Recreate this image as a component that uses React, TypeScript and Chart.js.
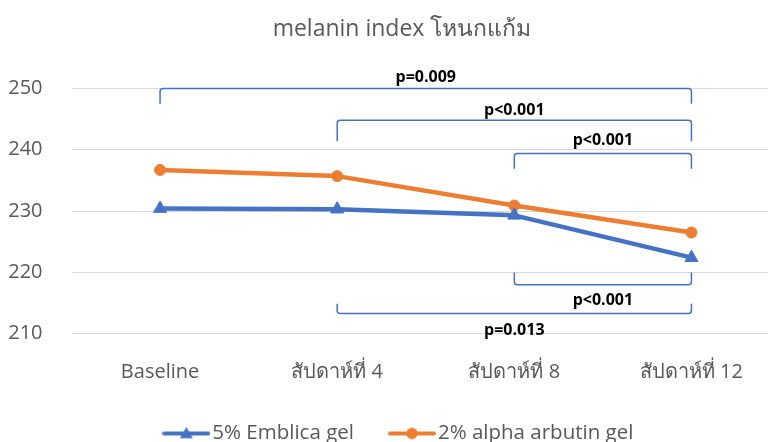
import React, { useEffect, useRef } from 'react';
import { Chart, registerables } from 'chart.js';

Chart.register(...registerables);

const categories = ['Baseline', 'สัปดาห์ที่ 4', 'สัปดาห์ที่ 8', 'สัปดาห์ที่ 12'];
const seriesNames = ['5% Emblica gel', '2% alpha arbutin gel'];
const emblicaValues = [230.4, 230.3, 229.3, 222.4];
const arbutinValues = [236.7, 235.7, 230.9, 226.5];
const yTicks = [210, 220, 230, 240, 250];

const bracketFrom = [0, 1, 2, 2, 1];
const bracketTo = [3, 3, 3, 3, 3];
const bracketLine = [250, 244.8, 239.4, 218.0, 213.3];
const bracketEnd = [247.5, 241.4, 236.9, 220.0, 214.9];
const bracketText = ['p=0.009', 'p<0.001', 'p<0.001', 'p<0.001', 'p=0.013'];
const bracketTextAt = [251.1, 245.6, 240.8, 214.7, 209.8];

const BLUE = '#4472C4';
const ORANGE = '#ED7D31';
const GREY = '#595959';
const FONT = "'Open Sans', 'Noto Sans', sans-serif";

function makeLegendImage(color: string, style: 'triangle' | 'circle') {
  const c = document.createElement('canvas');
  c.width = 48;
  c.height = 16;
  const g = c.getContext('2d')!;
  g.strokeStyle = color;
  g.lineWidth = 4;
  g.lineCap = 'round';
  g.beginPath();
  g.moveTo(2, 8);
  g.lineTo(46, 8);
  g.stroke();
  g.fillStyle = color;
  g.beginPath();
  if (style === 'triangle') {
    const r = 7.5;
    const cx = 24, cy = 9;
    for (let k = 0; k < 3; k++) {
      const a = (k * 2 * Math.PI) / 3;
      const px = cx + Math.sin(a) * r;
      const py = cy - Math.cos(a) * r;
      if (k === 0) g.moveTo(px, py); else g.lineTo(px, py);
    }
    g.closePath();
  } else {
    g.arc(24, 8, 5.8, 0, Math.PI * 2);
  }
  g.fill();
  return c;
}

// let the y-axis tick labels use the space left of the layout padding
const axisLabelSpacePlugin = {
  id: 'axisLabelSpace',
  afterLayout(chart: any) {
    if (chart.scales.y) chart.scales.y.left = 0;
  },
};

const bracketPlugin = {
  id: 'brackets',
  afterDatasetsDraw(chart: any) {
    const { ctx, scales } = chart;
    const x = scales.x;
    const y = scales.y;
    ctx.save();
    bracketFrom.forEach((f, i) => {
      const x1 = x.getPixelForValue(f);
      const x2 = x.getPixelForValue(bracketTo[i]);
      const yl = y.getPixelForValue(bracketLine[i]);
      const ye = y.getPixelForValue(bracketEnd[i]);
      ctx.strokeStyle = BLUE;
      ctx.lineWidth = 1.5;
      ctx.beginPath();
      ctx.moveTo(x1, ye);
      ctx.arcTo(x1, yl, x2, yl, 3);
      ctx.arcTo(x2, yl, x2, ye, 3);
      ctx.lineTo(x2, ye);
      ctx.stroke();
      ctx.fillStyle = '#000000';
      ctx.font = `bold 16px ${FONT}`;
      ctx.textAlign = 'center';
      ctx.textBaseline = 'alphabetic';
      ctx.fillText(bracketText[i], (x1 + x2) / 2, y.getPixelForValue(bracketTextAt[i]));
    });
    ctx.restore();
  },
};

export default function App() {
  const ref = useRef<HTMLCanvasElement>(null);

  useEffect(() => {
    if (!ref.current) return;
    const legendImages = [makeLegendImage(BLUE, 'triangle'), makeLegendImage(ORANGE, 'circle')];
    const chart = new Chart(ref.current, {
      type: 'line',
      data: {
        labels: categories,
        datasets: [
          {
            label: seriesNames[0],
            data: emblicaValues,
            borderColor: BLUE,
            backgroundColor: BLUE,
            borderWidth: 4.5,
            pointStyle: 'triangle',
            pointRadius: 7.5,
            pointBorderWidth: 1,
            pointBackgroundColor: BLUE,
            pointBorderColor: BLUE,
            tension: 0,
            borderJoinStyle: 'round',
            borderCapStyle: 'round',
          },
          {
            label: seriesNames[1],
            data: arbutinValues,
            borderColor: ORANGE,
            backgroundColor: ORANGE,
            borderWidth: 4.5,
            pointStyle: 'circle',
            pointRadius: 5.5,
            pointBorderWidth: 1,
            pointBackgroundColor: ORANGE,
            pointBorderColor: ORANGE,
            tension: 0,
            borderJoinStyle: 'round',
            borderCapStyle: 'round',
          },
        ],
      },
      options: {
        animation: false,
        responsive: false,
        devicePixelRatio: 1,
        layout: { padding: { left: 24, right: 20, top: 0, bottom: -11.75 } },
        font: { family: FONT },
        plugins: {
          title: {
            display: true,
            text: 'melanin index โหนกแก้ม',
            color: GREY,
            font: { size: 23, weight: 'normal', family: FONT },
            padding: { top: 15.2, bottom: 45.6 },
          },
          legend: {
            display: true,
            position: 'bottom',
            labels: {
              usePointStyle: true,
              pointStyleWidth: 31.5,
              boxHeight: 16,
              padding: 42.25,
              color: GREY,
              font: { size: 20.5, family: FONT },
              generateLabels: () =>
                seriesNames.map((n, i) => ({
                  text: n,
                  pointStyle: legendImages[i],
                  fillStyle: i === 0 ? BLUE : ORANGE,
                  strokeStyle: i === 0 ? BLUE : ORANGE,
                  lineWidth: 0,
                  hidden: false,
                  datasetIndex: i,
                  fontColor: GREY,
                })) as any,
            },
          },
          tooltip: { enabled: false },
        },
        scales: {
          x: {
            offset: true,
            grid: { display: false, drawTicks: false, tickLength: 0, offset: true },
            border: { display: false },
            ticks: { color: GREY, font: { size: 20, family: FONT }, padding: 27, maxRotation: 0 },
            afterFit: (s: any) => {
              s.height = 47.3;
            },
          },
          y: {
            min: 210,
            max: 250,
            grid: { color: '#D9D9D9', lineWidth: 1, drawTicks: false, tickLength: 0 },
            border: { display: false },
            ticks: { color: GREY, font: { size: 20, family: FONT }, padding: 29 },
            afterBuildTicks: (s: any) => {
              s.ticks = yTicks.map((v) => ({ value: v }));
            },
            afterFit: (s: any) => {
              s.width = 47.5;
            },
          },
        },
      } as any,
      plugins: [axisLabelSpacePlugin, bracketPlugin],
    });
    return () => chart.destroy();
  }, []);

  return (
    <div style={{ position: 'fixed', left: 0, top: 0, width: 768, height: 442, overflow: 'hidden', background: '#fff' }}>
      <canvas ref={ref} width={800} height={442} style={{ display: 'block' }} />
    </div>
  );
}
